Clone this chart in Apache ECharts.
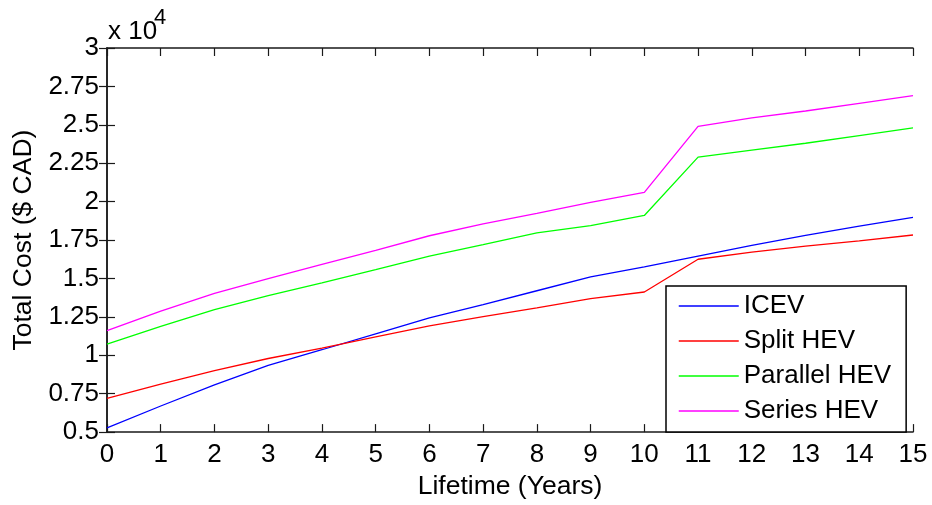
<!DOCTYPE html>
<html>
<head>
<meta charset="utf-8">
<script src="https://cdn.jsdelivr.net/npm/echarts@6/dist/echarts.min.js"></script>
<style>
html,body{margin:0;padding:0;background:#fff;}
#chart{width:932px;height:505px;}
</style>
</head>
<body>
<div id="chart"></div>
<script>
// Lifetime in years
var years = [0,1,2,3,4,5,6,7,8,9,10,11,12,13,14,15];
// Total cost in $ CAD
var icev     = [5270, 6700, 8080, 9340, 10360, 11390, 12430, 13300, 14200, 15100, 15750, 16460, 17150, 17800, 18400, 18980];
var splitHev = [7190, 8130, 9000, 9790, 10470, 11200, 11920, 12510, 13090, 13690, 14120, 16250, 16710, 17100, 17450, 17830];
var parallelHev = [10730, 11880, 12970, 13880, 14710, 15570, 16460, 17200, 17970, 18440, 19100, 22900, 23350, 23800, 24300, 24800];
var seriesHev   = [11600, 12880, 14030, 14990, 15910, 16830, 17780, 18550, 19230, 19950, 20600, 24900, 25450, 25900, 26400, 26900];
var seriesNames = ['ICEV', 'Split HEV', 'Parallel HEV', 'Series HEV'];
var seriesColors = ['#0000ff', '#ff0000', '#00ff00', '#ff00ff'];
var xTitle = 'Lifetime (Years)';
var yTitle = 'Total Cost ($ CAD)';

var FONT = "'Liberation Sans', Arial, sans-serif";
var allData = [icev, splitHev, parallelHev, seriesHev];

function pairs(arr){ return years.map(function(x,i){ return [x, arr[i]]; }); }

var chart = echarts.init(document.getElementById('chart'), null, {renderer:'canvas'});
var axisLine = {show:true, lineStyle:{color:'#1a1a1a', width:1.5}};
var tick = {show:true, inside:true, length:8, lineStyle:{color:'#1a1a1a', width:1.2}};

var option = {
  animation:false,
  backgroundColor:'#fff',
  textStyle:{fontFamily:FONT},
  grid:{left:107, right:19, top:48, bottom:66, containLabel:false},
  xAxis:[{
    type:'value', min:0, max:15, interval:1, position:'bottom',
    name:xTitle, nameLocation:'middle', nameGap:39,
    nameTextStyle:{fontSize:26.5, color:'#000', fontFamily:FONT},
    axisLine:axisLine, axisTick:tick, splitLine:{show:false},
    axisLabel:{fontSize:26, color:'#000', margin:10, fontFamily:FONT}
  },{
    type:'value', min:0, max:15, interval:1, position:'top',
    axisLine:axisLine, axisTick:tick, splitLine:{show:false},
    axisLabel:{show:false}
  }],
  yAxis:[{
    type:'value', min:5000, max:30000, interval:2500, position:'left',
    name:yTitle, nameLocation:'middle', nameGap:69, nameRotate:90,
    nameTextStyle:{fontSize:26.5, color:'#000', fontFamily:FONT},
    axisLine:axisLine, axisTick:tick, splitLine:{show:false},
    axisLabel:{fontSize:26, color:'#000', margin:8, fontFamily:FONT,
      formatter:function(v){ return String(v/10000); }}
  },{
    type:'value', min:5000, max:30000, interval:2500, position:'right',
    axisLine:axisLine, axisTick:tick, splitLine:{show:false},
    axisLabel:{show:false}
  }],
  legend:{
    data:seriesNames, orient:'vertical', left:666, top:286,
    padding:[5,15,6,12], itemGap:5, itemWidth:60, itemHeight:14,
    backgroundColor:'#fff', borderColor:'#000', borderWidth:1.5, borderRadius:0,
    itemStyle:{opacity:0},
    lineStyle:{width:1.5},
    textStyle:{fontSize:26, lineHeight:30, color:'#000', fontFamily:FONT},
    selectedMode:false
  },
  graphic:[
    {type:'text', left:108, top:19, z:10,
     style:{text:'x 10', font:'26px ' + FONT, fill:'#000'}},
    {type:'text', left:154, top:7, z:10,
     style:{text:'4', font:'22px ' + FONT, fill:'#000'}}
  ],
  series: seriesNames.map(function(n, i){
    return {
      name:n, type:'line', data:pairs(allData[i]),
      xAxisIndex:0, yAxisIndex:0,
      symbol:'none', showSymbol:false,
      lineStyle:{color:seriesColors[i], width:1.3},
      itemStyle:{color:seriesColors[i]},
      z:2
    };
  })
};
chart.setOption(option);
</script>
</body>
</html>
